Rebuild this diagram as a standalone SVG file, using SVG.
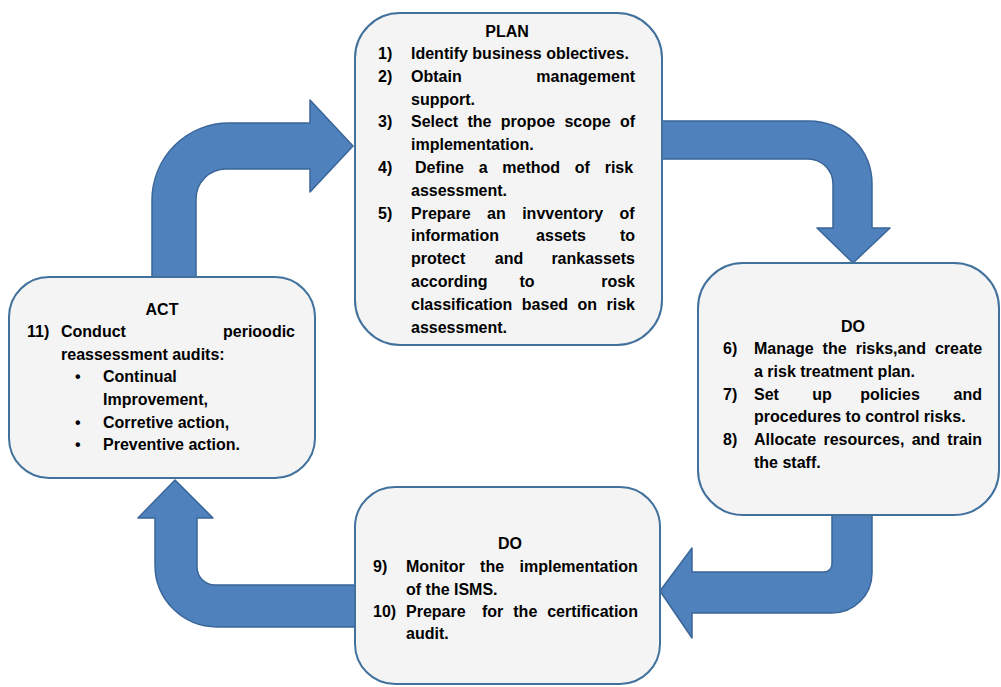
<svg xmlns="http://www.w3.org/2000/svg" width="1001" height="687" viewBox="0 0 1001 687">
<style>
.arrow{fill:#4F81BD;stroke:#3A6598;stroke-width:1.5;stroke-linejoin:round}
.box{fill:#F4F4F4;stroke:#41719C;stroke-width:2}
text{font-family:"Liberation Sans",Arial,sans-serif;font-weight:bold;font-size:16px;fill:#000}
.c{text-anchor:middle}
.e{text-anchor:end}
</style>
<rect width="1001" height="687" fill="#FFFFFF"/>
<g id="connectors">
<path class="arrow" d="M152,280 L152,200 A77,77 0 0 1 229,123 L310,123 L310,100 L353,146 L310,192 L310,169 L226,169 A30,30 0 0 0 196,199 L196,280 Z"/>
<path class="arrow" d="M655,121 L809,121 A63,63 0 0 1 872,184 L872,228 L890,228 L853,263 L817,228 L833,228 L833,184 A25,25 0 0 0 808,159 L655,159 Z"/>
<path class="arrow" d="M832,508 L872,508 L872,573 A40,40 0 0 1 832,613 L692,613 L692,638 L660,591 L692,548 L692,572 L824,572 A8,8 0 0 0 832,564 Z"/>
<path class="arrow" d="M360,585 L215,585 A18,18 0 0 1 197,567 L197,518 L213,518 L175,480 L138,518 L155,518 L155,565 A62,62 0 0 0 217,627 L360,627 Z"/>
</g>
<g id="plan">
<rect class="box" x="355" y="13" width="307" height="332" rx="45" ry="45"/>
<text class="c" x="507" y="37">PLAN</text>
<text x="378" y="59">1)</text><text x="411" y="59">Identify business oblectives.</text>
<text x="378" y="81.8">2)</text><text x="411" y="81.8">Obtain</text><text class="e" x="635" y="81.8">management</text>
<text x="411" y="104.6">support.</text>
<text x="378" y="127.4">3)</text><text x="411" y="127.4" word-spacing="4.9">Select the propoe scope of</text>
<text x="411" y="150.2">implementation.</text>
<text x="378" y="173">4)</text><text x="415" y="173" word-spacing="10.3">Define a method of risk</text>
<text x="411" y="195.8">assessment.</text>
<text x="378" y="218.6">5)</text><text x="411" y="218.6" word-spacing="12">Prepare an invventory of</text>
<text x="411" y="241.4">information</text><text class="c" x="561" y="241.4">assets</text><text class="e" x="635" y="241.4">to</text>
<text x="411" y="264.2">protect</text><text class="c" x="509" y="264.2">and</text><text class="e" x="635" y="264.2">rankassets</text>
<text x="411" y="287">according</text><text class="c" x="527" y="287">to</text><text class="e" x="635" y="287">rosk</text>
<text x="411" y="309.8" word-spacing="5">classification based on risk</text>
<text x="411" y="332.6">assessment.</text>
</g>
<g id="do-right">
<rect class="box" x="698" y="263" width="301" height="252" rx="45" ry="45"/>
<text class="c" x="853" y="332">DO</text>
<text x="723" y="354">6)</text><text x="754" y="354" word-spacing="4.6">Manage the risks,and create</text>
<text x="754" y="377">a risk treatment plan.</text>
<text x="723" y="400">7)</text><text x="754" y="400">Set</text><text class="c" x="822" y="400">up</text><text class="c" x="890" y="400">policies</text><text class="e" x="982" y="400">and</text>
<text x="754" y="422">procedures to control risks.</text>
<text x="723" y="445">8)</text><text x="754" y="445" word-spacing="2.8">Allocate resources, and train</text>
<text x="754" y="468">the staff.</text>
</g>
<g id="do-bottom">
<rect class="box" x="355" y="487" width="305" height="197" rx="40" ry="40"/>
<text class="c" x="510" y="549">DO</text>
<text x="373" y="572">9)</text><text x="406" y="572" word-spacing="11">Monitor the implementation</text>
<text x="406" y="595">of the ISMS.</text>
<text x="373" y="617">10)</text><text x="406" y="617">Prepare</text><text x="482" y="617" word-spacing="5.5">for the certification</text>
<text x="406" y="639">audit.</text>
</g>
<g id="act">
<rect class="box" x="9" y="277" width="306" height="201" rx="40" ry="40"/>
<text class="c" x="162" y="315">ACT</text>
<text x="27" y="337">11)</text><text x="61" y="337">Conduct</text><text class="e" x="295" y="337">perioodic</text>
<text x="61" y="360">reassessment audits:</text>
<text x="75" y="382">•</text><text x="103" y="382">Continual</text>
<text x="103" y="405">Improvement,</text>
<text x="75" y="428">•</text><text x="103" y="428">Corretive action,</text>
<text x="75" y="450">•</text><text x="103" y="450">Preventive action.</text>
</g>
</svg>
